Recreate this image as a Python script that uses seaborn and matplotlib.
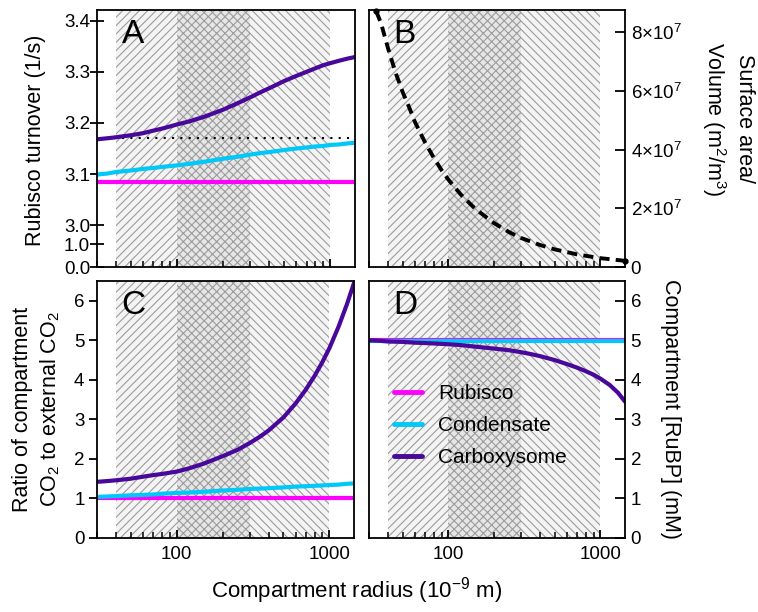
import numpy as np
import matplotlib
matplotlib.use("Agg")
import matplotlib.pyplot as plt
from matplotlib.ticker import FixedLocator, LogLocator, NullFormatter, NullLocator
from matplotlib.lines import Line2D
import seaborn as sns

# ---- data -------------------------------------------------------------
radius_nm = [30, 35, 40, 50, 60, 70, 80, 100, 120, 150, 200, 250, 300, 350, 400,
             500, 600, 700, 800, 900, 1000, 1150, 1300, 1450]

# A: Rubisco turnover (1/s)
rubisco_kcat = [3.084] * 24
condensate_kcat = [3.099, 3.101, 3.104, 3.107, 3.110, 3.112, 3.114, 3.117, 3.120,
                   3.124, 3.130, 3.134, 3.138, 3.141, 3.143, 3.147, 3.150, 3.152,
                   3.154, 3.155, 3.157, 3.158, 3.160, 3.161]
carboxysome_kcat = [3.168, 3.170, 3.172, 3.176, 3.180, 3.185, 3.189, 3.197, 3.203,
                    3.212, 3.226, 3.239, 3.250, 3.260, 3.268, 3.282, 3.292, 3.300,
                    3.307, 3.313, 3.317, 3.322, 3.326, 3.329]
free_kcat_ref = 3.17

# B: surface area / volume (m^2/m^3)
sa_radius_nm = [33.5, 36, 40, 45, 50, 55, 60, 70, 80, 90, 100, 120, 150, 200, 250,
                300, 400, 500, 700, 1000, 1450]
sa_volume = [8.7e7, 8.3e7, 7.45e7, 6.6e7, 5.95e7, 5.45e7, 4.95e7, 4.25e7, 3.72e7,
             3.3e7, 2.97e7, 2.48e7, 1.98e7, 1.49e7, 1.19e7, 0.99e7, 0.75e7, 0.6e7,
             0.43e7, 0.3e7, 0.21e7]

# C: compartment CO2 / external CO2
rubisco_co2 = [1.0] * 24
condensate_co2 = [1.04, 1.05, 1.06, 1.08, 1.09, 1.10, 1.12, 1.14, 1.15, 1.17, 1.20,
                  1.22, 1.24, 1.25, 1.26, 1.28, 1.30, 1.31, 1.32, 1.33, 1.34, 1.35,
                  1.37, 1.38]
carboxysome_co2 = [1.42, 1.44, 1.46, 1.50, 1.55, 1.59, 1.62, 1.68, 1.76, 1.88, 2.07,
                   2.23, 2.40, 2.56, 2.72, 3.05, 3.40, 3.75, 4.10, 4.45, 4.80, 5.35,
                   5.90, 6.45]

# D: compartment [RuBP] (mM)
rubisco_rubp = [5.0] * 24
condensate_rubp = [4.99] * 24
carboxysome_rubp = [5.00, 4.99, 4.97, 4.96, 4.94, 4.93, 4.92, 4.90, 4.88, 4.84, 4.79,
                    4.75, 4.70, 4.65, 4.60, 4.50, 4.40, 4.31, 4.22, 4.13, 4.03, 3.87,
                    3.68, 3.45]

band_edges = [40, 100, 300, 1000]
series_names = ["Rubisco", "Condensate", "Carboxysome"]

# ---- style ------------------------------------------------------------
sns.set_theme(style="ticks")
plt.rcParams["font.family"] = ["Liberation Sans", "DejaVu Sans"]
plt.rcParams["mathtext.fontset"] = "custom"
plt.rcParams["mathtext.rm"] = "Liberation Sans"
plt.rcParams["mathtext.it"] = "Liberation Sans:italic"
plt.rcParams["mathtext.bf"] = "Liberation Sans:bold"
plt.rcParams["hatch.linewidth"] = 0.8
plt.rcParams["hatch.color"] = "#9c9c9c"
for key in ("text.color", "axes.labelcolor", "xtick.color", "ytick.color",
            "axes.edgecolor"):
    plt.rcParams[key] = "black"

COLORS = {"Rubisco": "#FF00FF", "Condensate": "#00C8F8", "Carboxysome": "#48089A"}
LW = 3.0
TICK_FS = 13.5
LABEL_FS = 15.5

W, H = 758, 612
fig = plt.figure(figsize=(W / 100, H / 100), dpi=100)


def box(l, t, r, b):
    return [l / W, 1 - b / H, (r - l) / W, (b - t) / H]


axA = fig.add_axes(box(97, 10, 355, 267))
axB = fig.add_axes(box(369, 10, 625, 267))
axC = fig.add_axes(box(97, 281, 354, 538))
axD = fig.add_axes(box(369, 281, 625, 538))
axes = [axA, axB, axC, axD]


def shade(ax):
    lo, a, b, hi = band_edges
    ax.axvspan(lo, a, facecolor="#f4f4f4", edgecolor="#9c9c9c", hatch="////", lw=0, zorder=0)
    ax.axvspan(a, b, facecolor="#e6e6e6", edgecolor="#9c9c9c", hatch="xxxx", lw=0, zorder=0)
    ax.axvspan(b, hi, facecolor="#f4f4f4", edgecolor="#9c9c9c", hatch="\\\\\\\\", lw=0, zorder=0)


for ax in axes:
    ax.set_xscale("log")
    ax.set_xlim(30, 1450)
    shade(ax)
    ax.xaxis.set_major_locator(FixedLocator([100, 1000]))
    ax.xaxis.set_minor_locator(LogLocator(base=10, subs=np.arange(2, 10) * 1.0, numticks=20))
    ax.xaxis.set_minor_formatter(NullFormatter())
    ax.tick_params(axis="x", which="major", direction="in", length=6, width=1.3,
                   labelsize=TICK_FS, pad=6)
    ax.tick_params(axis="x", which="minor", direction="in", length=4, width=1.1)
    for s in ax.spines.values():
        s.set_visible(True)
        s.set_linewidth(1.3)
        s.set_color("black")
    ax.grid(False)

for ax in (axA, axB):
    ax.tick_params(axis="x", labelbottom=False)
for ax in (axC, axD):
    ax.set_xticks([100, 1000], ["100", "1000"])


def draw_three(ax, ys):
    for name, y in zip(series_names, ys):
        sns.lineplot(x=radius_nm, y=y, ax=ax, color=COLORS[name], lw=LW,
                     legend=False, errorbar=None)


# ---- A: broken y axis --------------------------------------------------
def fwd(v):
    v = np.asarray(v, dtype=float)
    return np.where(v <= 1, v * 23.0,
                    np.where(v <= 3, 23.0 + (v - 1) * 9.5, 42.0 + (v - 3) * 513.0))


def inv(u):
    u = np.asarray(u, dtype=float)
    return np.where(u <= 23, u / 23.0,
                    np.where(u <= 42, 1 + (u - 23) / 9.5, 3 + (u - 42) / 513.0))


axA.set_yscale("function", functions=(fwd, inv))
axA.set_ylim(0, 3.421)
axA.axhline(free_kcat_ref, color="black", lw=1.5, ls=(0, (1, 3)), zorder=1.5)
draw_three(axA, [rubisco_kcat, condensate_kcat, carboxysome_kcat])
axA.set_yticks([0, 1, 3.0, 3.1, 3.2, 3.3, 3.4],
               ["0.0", "1.0", "3.0", "3.1", "3.2", "3.3", "3.4"])
axA.yaxis.set_minor_locator(NullLocator())
axA.tick_params(axis="y", direction="inout", length=10, width=1.3, labelsize=TICK_FS, pad=0)
axA.set_ylabel("Rubisco turnover (1/s)", fontsize=LABEL_FS, va="center")
axA.yaxis.set_label_coords(-0.24, 0.494)

# ---- B: surface area / volume -------------------------------------------
sns.lineplot(x=sa_radius_nm, y=sa_volume, ax=axB, color="black", lw=2.8,
             linestyle=(0, (2.6, 1.6)), legend=False, errorbar=None)
axB.plot([sa_radius_nm[0], sa_radius_nm[-1]], [sa_volume[0], sa_volume[-1]], "o",
         color="black", ms=3.5, clip_on=False, zorder=3)
axB.set_ylim(0, 8.75e7)
axB.yaxis.tick_right()
axB.yaxis.set_label_position("right")
axB.set_yticks([0, 2e7, 4e7, 6e7, 8e7],
               ["0", r"$2{\times}10^{7}$", r"$4{\times}10^{7}$", r"$6{\times}10^{7}$",
                r"$8{\times}10^{7}$"])
axB.tick_params(axis="y", direction="in", length=7, width=1.3, labelsize=TICK_FS, pad=4,
                left=False, right=True, labelleft=False, labelright=True)
axB.set_ylabel("Surface area/\nVolume (m$^{2}$/m$^{3}$)", fontsize=LABEL_FS,
               rotation=270, va="center", linespacing=1.3)
axB.yaxis.set_label_coords(1.40, 0.576)

# ---- C: CO2 ratio -------------------------------------------------------
draw_three(axC, [rubisco_co2, condensate_co2, carboxysome_co2])
axC.set_ylim(0, 6.5)
axC.set_yticks(range(0, 7))
axC.tick_params(axis="y", direction="out", length=6, width=1.3, labelsize=TICK_FS, pad=3)
axC.set_ylabel("Ratio of compartment\nCO$_{2}$ to external CO$_{2}$", fontsize=LABEL_FS,
               va="center", linespacing=1.3)
axC.yaxis.set_label_coords(-0.233, 0.5)

# ---- D: RuBP ------------------------------------------------------------
draw_three(axD, [rubisco_rubp, condensate_rubp, carboxysome_rubp])
axD.set_ylim(0, 6.5)
axD.set_yticks(range(0, 7))
axD.yaxis.tick_right()
axD.yaxis.set_label_position("right")
axD.tick_params(axis="y", direction="in", length=7, width=1.3, labelsize=TICK_FS, pad=4,
                left=False, right=True, labelleft=False, labelright=True)
axD.set_ylabel("Compartment [RuBP] (mM)", fontsize=LABEL_FS, rotation=270, va="center")
axD.yaxis.set_label_coords(1.176, 0.5)

handles = [Line2D([], [], color=COLORS[n], lw=3.5) for n in series_names]
axD.legend(handles, series_names, loc="upper left", bbox_to_anchor=(0.098, 0.598),
           frameon=False, fontsize=15, handlelength=1.35, handletextpad=0.75,
           labelspacing=0.62, borderpad=0, borderaxespad=0)

# ---- panel letters and shared x label ------------------------------------
for ax, letter in zip(axes, "ABCD"):
    ax.text(0.095, 0.87, letter, transform=ax.transAxes, fontsize=24,
            ha="left", va="baseline")

fig.text(357 / W, 1 - 591 / H, "Compartment radius (10$^{-9}$ m)", ha="center",
         va="center", fontsize=16)

fig.savefig("out.png", dpi=100)
